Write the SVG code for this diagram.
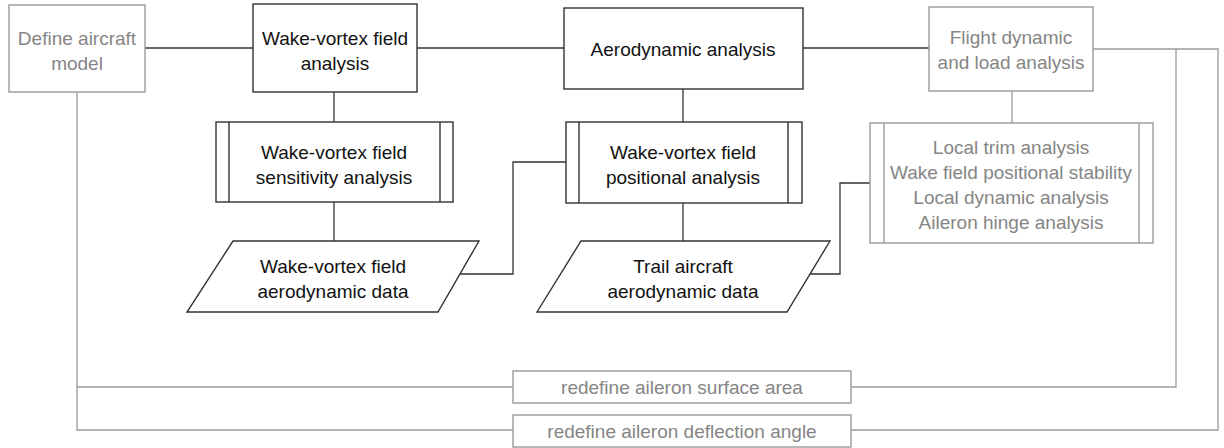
<svg xmlns="http://www.w3.org/2000/svg" width="1224" height="448" viewBox="0 0 1224 448">
<style>
  text { font-family: "Liberation Sans", Arial, sans-serif; font-size: 19px; text-anchor: middle; }
  .dk { fill: #fff; stroke: #333; stroke-width: 1.4; }
  .gr { fill: #fff; stroke: #9a9a9a; stroke-width: 1.4; }
  .tdk { fill: #111; }
  .tgr { fill: #858585; }
  .cdk { fill: none; stroke: #333; stroke-width: 1.3; }
  .cgr { fill: none; stroke: #9a9a9a; stroke-width: 1.3; }
</style>
<rect width="1224" height="448" fill="#fff"/>
<g id="connectors">
  <line class="cdk" x1="145" y1="48" x2="253" y2="48"/>
  <line class="cdk" x1="417" y1="48" x2="564" y2="48"/>
  <line class="cdk" x1="803" y1="48" x2="929" y2="48"/>
  <line class="cdk" x1="334" y1="92" x2="334" y2="122"/>
  <line class="cdk" x1="334" y1="202" x2="334" y2="241"/>
  <line class="cdk" x1="683" y1="89" x2="683" y2="122"/>
  <line class="cdk" x1="683" y1="203" x2="683" y2="241"/>
  <polyline class="cdk" points="460,274 513,274 513,162 566,162"/>
  <polyline class="cdk" points="810,274 840,274 840,183 870,183"/>
  <line class="cgr" x1="1012" y1="91" x2="1012" y2="123"/>
  <polyline class="cgr" points="77,92 77,430 513,430"/>
  <line class="cgr" x1="77" y1="387" x2="513" y2="387"/>
  <polyline class="cgr" points="1093,49 1218,49 1218,430 851,430"/>
  <polyline class="cgr" points="1176,49 1176,387 851,387"/>
</g>
<g id="define-aircraft-model">
  <rect class="gr" x="9" y="5" width="136" height="87"/>
  <text class="tgr" x="77" y="45">Define aircraft</text>
  <text class="tgr" x="77" y="70">model</text>
</g>
<g id="wake-vortex-field-analysis">
  <rect class="dk" x="253" y="4" width="164" height="88"/>
  <text class="tdk" x="335" y="45">Wake-vortex field</text>
  <text class="tdk" x="335" y="70">analysis</text>
</g>
<g id="aerodynamic-analysis">
  <rect class="dk" x="564" y="8" width="239" height="81"/>
  <text class="tdk" x="683" y="56">Aerodynamic analysis</text>
</g>
<g id="flight-dynamic">
  <rect class="gr" x="929" y="7" width="164" height="84"/>
  <text class="tgr" x="1011" y="44">Flight dynamic</text>
  <text class="tgr" x="1011" y="69">and load analysis</text>
</g>
<g id="sensitivity-analysis">
  <rect class="dk" x="216" y="122" width="237" height="80"/>
  <line class="dk" x1="229" y1="122" x2="229" y2="202"/>
  <line class="dk" x1="440" y1="122" x2="440" y2="202"/>
  <text class="tdk" x="334" y="159">Wake-vortex field</text>
  <text class="tdk" x="334" y="184">sensitivity analysis</text>
</g>
<g id="positional-analysis">
  <rect class="dk" x="566" y="122" width="236" height="81"/>
  <line class="dk" x1="579" y1="122" x2="579" y2="203"/>
  <line class="dk" x1="788" y1="122" x2="788" y2="203"/>
  <text class="tdk" x="683" y="159">Wake-vortex field</text>
  <text class="tdk" x="683" y="184">positional analysis</text>
</g>
<g id="local-analyses">
  <rect class="gr" x="870" y="123" width="283" height="120"/>
  <line class="gr" x1="884" y1="123" x2="884" y2="243"/>
  <line class="gr" x1="1139" y1="123" x2="1139" y2="243"/>
  <text class="tgr" x="1011" y="154">Local trim analysis</text>
  <text class="tgr" x="1011" y="179">Wake field positional stability</text>
  <text class="tgr" x="1011" y="204">Local dynamic analysis</text>
  <text class="tgr" x="1011" y="229">Aileron hinge analysis</text>
</g>
<g id="wake-vortex-aero-data">
  <polygon class="dk" points="233,241 479,241 438,312 187,312"/>
  <text class="tdk" x="333" y="273">Wake-vortex field</text>
  <text class="tdk" x="333" y="298">aerodynamic data</text>
</g>
<g id="trail-aircraft-aero-data">
  <polygon class="dk" points="581,241 830,241 787,312 537,312"/>
  <text class="tdk" x="683" y="273">Trail aircraft</text>
  <text class="tdk" x="683" y="298">aerodynamic data</text>
</g>
<g id="redefine-surface-area">
  <rect class="gr" x="513" y="371" width="338" height="32"/>
  <text class="tgr" x="682" y="394">redefine aileron surface area</text>
</g>
<g id="redefine-deflection-angle">
  <rect class="gr" x="513" y="415" width="338" height="32"/>
  <text class="tgr" x="682" y="438">redefine aileron deflection angle</text>
</g>
</svg>
